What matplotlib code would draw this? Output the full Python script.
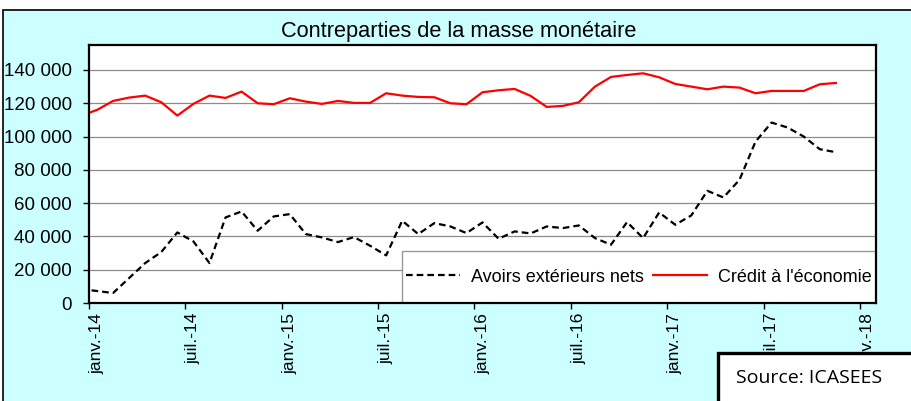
import matplotlib
matplotlib.use('Agg')

import matplotlib.pyplot as plt
import matplotlib.transforms as mtransforms
from matplotlib.patches import Rectangle
import pandas as pd

plt.rcParams['font.family'] = ['Liberation Sans', 'DejaVu Sans']

# Monthly series, Dec 2013 .. Nov 2017 (millions)
mois = pd.period_range('2013-12', '2017-11', freq='M')
avoirs_exterieurs = [
    8400,
    7200, 6000, 15000, 24000, 30600, 42400, 37000, 24000, 51400, 55000, 43400, 52000,
    53400, 41400, 39400, 36600, 39600, 34400, 28600, 49400, 41400, 48000, 46000, 42000,
    48400, 38600, 43000, 41800, 46000, 45000, 46600, 39000, 35000, 48600, 39000, 54400,
    47000, 52600, 67400, 63400, 74000, 97000, 108400, 105400, 100000, 92400, 90600,
]
credit_economie = [
    112500,
    116000, 121400, 123400, 124600, 120600, 112600, 119600, 124600, 123200, 127000, 120000, 119400,
    123000, 121000, 119600, 121400, 120200, 120200, 126000, 124600, 123800, 123600, 120000, 119400,
    126600, 127800, 128600, 124400, 117800, 118400, 120600, 130000, 135800, 137000, 138000, 135600,
    131600, 130000, 128400, 130000, 129400, 126000, 127400, 127400, 127400, 131400, 132200,
]
tick_labels = ['janv.-14', 'juil.-14', 'janv.-15', 'juil.-15', 'janv.-16',
               'juil.-16', 'janv.-17', 'juil.-17', 'janv.-18']
y_ticks = [0, 20000, 40000, 60000, 80000, 100000, 120000, 140000]

# months since Jan 2014, each point drawn mid-month
x = [(p.year - 2014) * 12 + p.month - 1 + 0.5 for p in mois]

W, H = 912, 401
fig = plt.figure(figsize=(W / 100, H / 100), dpi=100, facecolor='white')

# cyan chart area with a black frame on top / left
fig.add_artist(Rectangle((3 / W, -0.05), 1.1, 1 - 9.5 / H + 0.05,
                         transform=fig.transFigure, facecolor='#ccffff',
                         edgecolor='black', linewidth=1.2, zorder=0))

ax = fig.add_axes([89 / W, 1 - 303 / H, 787 / W, 258 / H])
ax.set_facecolor('white')

ax.plot(x, avoirs_exterieurs, color='black', linewidth=1.6, dashes=(3, 1.8),
        label='Avoirs extérieurs nets', zorder=3)
ax.plot(x, credit_economie, color='#ff0000', linewidth=1.6,
        label="Crédit à l'économie", zorder=3)

ax.set_xlim(0, 49)
ax.set_ylim(0, 155000)
ax.set_yticks(y_ticks)
ax.set_yticklabels([f'{v:,}'.replace(',', ' ') for v in y_ticks])
ax.set_xticks(range(0, 49, 6))
ax.set_xticklabels(tick_labels, rotation=90)
ax.tick_params(axis='both', direction='out', length=4, width=1,
               color='black', labelcolor='black')
ax.tick_params(axis='x', labelsize=12.5, pad=3)
ax.tick_params(axis='y', labelsize=13.5, pad=8.5)

# rotated month labels sit a little right of their tick
shift = mtransforms.ScaledTranslation(8 / 100, 0, fig.dpi_scale_trans)
for lbl in ax.get_xticklabels():
    lbl.set_transform(lbl.get_transform() + shift)

ax.grid(axis='y', color='#8c8c8c', linewidth=0.9)
ax.set_axisbelow(True)
for s in ax.spines.values():
    s.set_color('black')
    s.set_linewidth(1.6)
    s.set_zorder(6)

# legend box sitting in the lower right corner of the plot
bx0, bw, bh = (402 - 89) / 787, (876 - 402) / 787, (303 - 251) / 258
ax.add_patch(Rectangle((bx0, 0), bw, bh, transform=ax.transAxes,
                       facecolor='white', edgecolor='#999999', linewidth=1, zorder=4))
leg = ax.legend(loc='center', bbox_to_anchor=(bx0 + bw / 2, bh / 2), ncol=2,
                frameon=False, fontsize=13, handlelength=3.0, handletextpad=0.6,
                columnspacing=0.5)
leg.set_zorder(5)

fig.text(0.503, 1 - 31 / H, 'Contreparties de la masse monétaire',
         ha='center', va='center', fontsize=15.7)

# source box, bottom right
fig.add_artist(Rectangle((718 / W, -0.05), 0.3, 0.05 + 48 / H,
                         transform=fig.transFigure, facecolor='white',
                         edgecolor='black', linewidth=2.4, zorder=10))
fig.text(736 / W, 1 - 378 / H, 'Source: ICASEES', ha='left', va='center',
         fontsize=14, family=['Open Sans', 'DejaVu Sans'], zorder=11)

fig.savefig('out.png', dpi=100, facecolor='white')
plt.close(fig)
